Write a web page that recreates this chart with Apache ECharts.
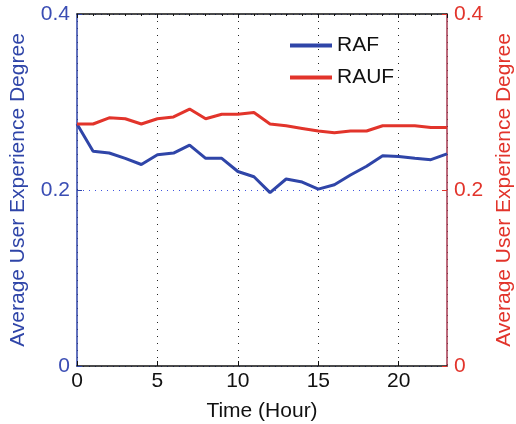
<!DOCTYPE html>
<html>
<head>
<meta charset="utf-8">
<script src="https://cdn.jsdelivr.net/npm/echarts@6/dist/echarts.min.js"></script>
<style>
  html, body { margin: 0; padding: 0; background: #fff; }
  #chart { width: 516px; height: 424px; }
</style>
</head>
<body>
<div id="chart"></div>
<script>
// hours 0..23
const hours = [0,1,2,3,4,5,6,7,8,9,10,11,12,13,14,15,16,17,18,19,20,21,22,23];
const rafValues = [0.275,0.244,0.242,0.236,0.229,0.240,0.242,0.251,0.236,0.236,0.221,0.215,
                   0.197,0.2125,0.209,0.201,0.206,0.217,0.227,0.239,0.238,0.236,0.2345,0.241];
const raufValues = [0.275,0.275,0.282,0.281,0.275,0.281,0.283,0.292,0.281,0.286,0.286,0.288,
                    0.275,0.273,0.270,0.267,0.265,0.267,0.267,0.273,0.273,0.273,0.271,0.271];
const yTicks = [0, 0.2, 0.4];

const blue = '#2f45a8';
const red = '#e2342b';
const font = 'Helvetica, "Liberation Sans", Arial, sans-serif';
const fmt = v => (v === 0 ? '0' : v.toFixed(1));

let chart = echarts.init(document.getElementById('chart'));
chart.setOption({
    animation: false,
    grid: { left: 77, right: 69, top: 14, bottom: 58, outerBoundsMode: 'none', containLabel: false },
    legend: {
        orient: 'vertical',
        left: 285,
        top: 30,
        itemWidth: 42,
        itemHeight: 4,
        itemGap: 11,
        icon: 'rect',
        textStyle: { fontSize: 21, color: '#111', fontFamily: font },
        data: ['RAF', 'RAUF']
    },
    xAxis: [
        {
            type: 'value',
            min: 0,
            max: 23,
            interval: 5,
            name: 'Time (Hour)',
            nameLocation: 'middle',
            nameGap: 35,
            nameTextStyle: { fontSize: 21, color: '#111', fontFamily: font },
            axisLine: { onZero: false, lineStyle: { color: '#111', width: 1.5 } },
            axisTick: { inside: true, length: 5, lineStyle: { color: '#111' } },
            axisLabel: { fontSize: 21, color: '#111', fontFamily: font, margin: 5, showMaxLabel: false },
            splitLine: { show: true, lineStyle: { color: '#222', type: [1, 6], width: 1 } }
        },
        {
            type: 'value',
            position: 'top',
            min: 0,
            max: 23,
            interval: 5,
            axisLine: { show: true, onZero: false, lineStyle: { color: '#111', width: 1.5 } },
            axisTick: { show: true, inside: true, length: 4, lineStyle: { color: '#111' } },
            minorTick: { show: true, splitNumber: 5, length: 2, lineStyle: { color: '#111' } },
            axisLabel: { show: false },
            splitLine: { show: false }
        }
    ],
    yAxis: [
        {
            type: 'value',
            min: 0,
            max: 0.4,
            interval: 0.2,
            name: 'Average User Experience Degree',
            nameLocation: 'middle',
            nameGap: 48,
            nameTextStyle: { fontSize: 21, color: blue, fontFamily: font },
            axisLine: { show: true, onZero: false, lineStyle: { color: blue, width: 1.5 } },
            axisTick: { show: true, inside: true, length: 5, lineStyle: { color: blue } },
            axisLabel: { fontSize: 21, color: '#3a4db4', fontFamily: font, margin: 7, formatter: fmt },
            splitLine: { show: true, lineStyle: { color: '#3f55e0', type: [1, 5], width: 1 } }
        },
        {
            type: 'value',
            min: 0,
            max: 0.4,
            interval: 0.2,
            position: 'right',
            name: 'Average User Experience Degree',
            nameLocation: 'middle',
            nameGap: 41,
            nameRotate: 90,
            nameTextStyle: { fontSize: 21, color: red, fontFamily: font },
            axisLine: { show: true, onZero: false, lineStyle: { color: '#a63a50', width: 1.5 } },
            axisTick: { show: true, inside: true, length: 5, lineStyle: { color: red } },
            axisLabel: { fontSize: 21, color: red, fontFamily: font, margin: 7, formatter: fmt },
            splitLine: { show: false }
        }
    ],
    series: [
        {
            name: 'RAF',
            type: 'line',
            yAxisIndex: 0,
            showSymbol: false,
            symbol: 'none',
            data: hours.map((h, i) => [h, rafValues[i]]),
            lineStyle: { color: blue, width: 3 },
            itemStyle: { color: blue }
        },
        {
            name: 'RAUF',
            type: 'line',
            yAxisIndex: 1,
            showSymbol: false,
            symbol: 'none',
            data: hours.map((h, i) => [h, raufValues[i]]),
            lineStyle: { color: red, width: 3 },
            itemStyle: { color: red }
        }
    ]
});
</script>
</body>
</html>
